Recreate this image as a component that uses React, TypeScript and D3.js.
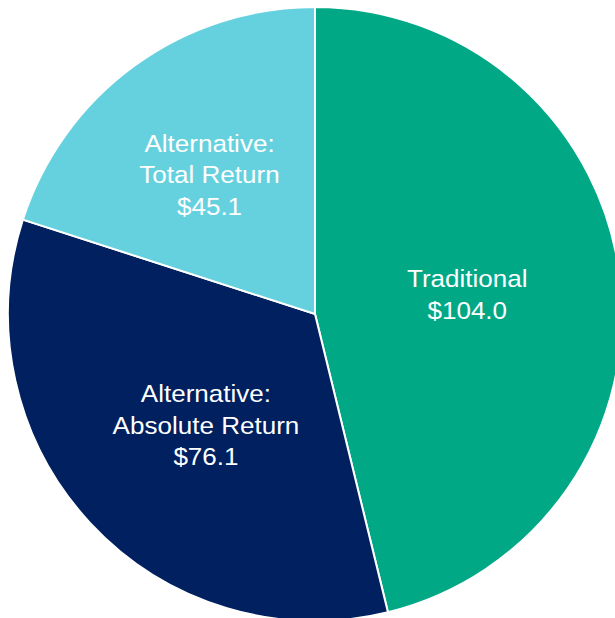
import React from "react";
import * as d3 from "d3";

const categories = ["Traditional", "Alternative: Absolute Return", "Alternative: Total Return"];
const labelLines = [["Traditional"], ["Alternative:", "Absolute Return"], ["Alternative:", "Total Return"]];
const values = [104.0, 76.1, 45.1];
const colors = ["#00A886", "#002060", "#66D1DE"];
const labelRadiusFactor = [0.5, 0.507, 0.569];
const labelAngleOffsetDeg = [-0.4, -2.6, -1.1];

const W = 615;
const H = 618;
const cx = 315;
const cy = 314;
const R = 307;
const fontSize = 24;
const stretchX = 1.085;
const lineH = 31.7;

export default function App() {
  const pie = d3.pie<number>().sort(null).value((d) => d);
  const arcs = pie(values);
  const arc = d3.arc<d3.PieArcDatum<number>>().innerRadius(0).outerRadius(R);

  return (
    <svg
      width={W}
      height={H}
      style={{ position: "absolute", left: 0, top: 0, display: "block" }}
    >
      <rect width={W} height={H} fill="#ffffff" />
      <g transform={`translate(${cx},${cy})`}>
        {arcs.map((a, i) => (
          <path key={categories[i]} d={arc(a) || ""} fill={colors[i]} stroke="#ffffff" strokeWidth={2} />
        ))}
        {arcs.map((a, i) => {
          const lr = R * labelRadiusFactor[i];
          const ang = (a.startAngle + a.endAngle) / 2 + (labelAngleOffsetDeg[i] * Math.PI) / 180;
          const x = lr * Math.sin(ang);
          const y = -lr * Math.cos(ang);
          const lines = [...labelLines[i], `$${values[i].toFixed(1)}`];
          const n = lines.length;
          return (
            <g key={"l" + i} transform={`translate(${x},${y}) scale(${stretchX},1)`}>
              <text
                textAnchor="middle"
                fill="#ffffff"
                fontFamily="'Liberation Sans', Arial, sans-serif"
                fontSize={fontSize}
              >
                {lines.map((t, j) => (
                  <tspan key={j} x={0} y={(j - (n - 1) / 2) * lineH} dominantBaseline="central">
                    {t}
                  </tspan>
                ))}
              </text>
            </g>
          );
        })}
      </g>
    </svg>
  );
}
